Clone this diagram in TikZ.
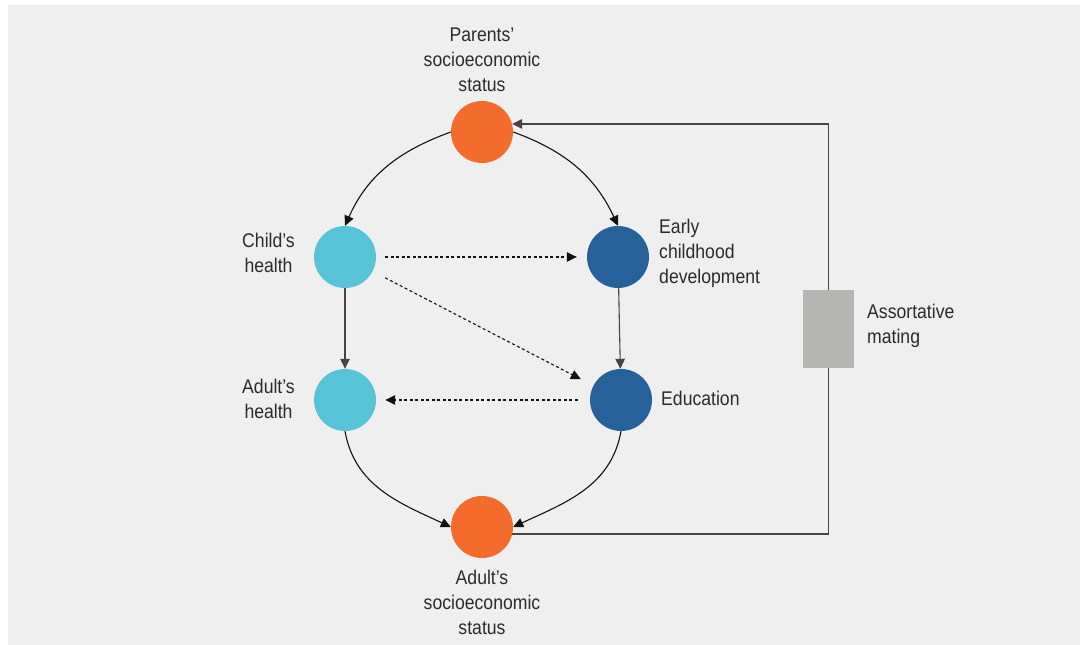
\documentclass[tikz,border=0pt]{standalone}
\usepackage{fontspec}
\setmainfont{Liberation Sans}[FakeStretch=0.89]
\usetikzlibrary{arrows.meta,calc}
\definecolor{bgc}{HTML}{EFEFEF}
\definecolor{sesc}{HTML}{F36C2C}
\definecolor{hc}{HTML}{57C3D6}
\definecolor{edc}{HTML}{266299}
\definecolor{boxc}{HTML}{B5B6B4}
\definecolor{txtc}{HTML}{2B2B2B}
\definecolor{linec}{HTML}{111111}
\definecolor{vlinec}{HTML}{444444}
\tikzset{
  dot/.style={circle, minimum size=62pt, inner sep=0pt, draw=none},
  sesnode/.style={dot, fill=sesc},
  hnode/.style={dot, fill=hc},
  enode/.style={dot, fill=edc},
  boxnode/.style={rectangle, fill=boxc, minimum width=51pt, minimum height=78pt, inner sep=0pt},
  lbl/.style={inner sep=0pt, text=txtc, font=\fontsize{19.8pt}{25pt}\selectfont},
  arr/.style={draw=linec, line width=1.1pt, -{Triangle[length=10pt,width=9.5pt]}},
  vline/.style={draw=vlinec},
  dotarr/.style={draw=linec, line width=1.1pt, dash pattern=on 3pt off 2.5pt, -{Triangle[length=10pt,width=9.5pt]}},
  loopline/.style={draw=vlinec, line width=1.2pt},
}
\begin{document}
\begin{tikzpicture}[x=1pt,y=1pt]
\useasboundingbox (0,0) rectangle (1084,645);
\fill[white] (0,0) rectangle (1084,645);
\fill[bgc] (8,0) rectangle (1080,640);

% circles
\node[sesnode] (ps) at (482,513) {};
\node[hnode] (ch) at (345,388) {};
\node[enode] (ec) at (618,388) {};
\node[enode] (ed) at (621,245) {};
\node[hnode] (ah) at (345,245) {};
\node[sesnode] (as) at (482,118) {};
\node[boxnode] (am) at (828.5,316) {};

% labels
\node[lbl, align=center] (psl) at (482,585) {Parents’\\socioeconomic\\status};
\node[lbl, align=center, anchor=east] (chl) at (295,392) {Child’s\\health};
\node[lbl, align=center, anchor=east] (ahl) at (295,246) {Adult’s\\health};
\node[lbl, align=left, anchor=west] (ecl) at (659,392) {Early\\childhood\\development};
\node[lbl, anchor=west] (edl) at (661,247) {Education};
\node[lbl, align=left, anchor=west] (aml) at (867,319) {Assortative\\mating};
\node[lbl, align=center] (asl) at (482,43) {Adult’s\\socioeconomic\\status};

% connectors
\draw[arr] (ps.west) to[out=200,in=66] (ch.north);
\draw[arr] (ps.east) to[out=-20,in=115] (ec.north);
\draw[arr,vline] (ch) -- (ah);
\draw[arr,vline] (ec) -- (ed);
\draw[arr] (ah.south) to[out=-80,in=155] (as.west);
\draw[arr] (ed.south) to[out=-100,in=25] (as.east);
\draw[dotarr, shorten <=9pt, shorten >=10pt] (ch) -- (ec);
\draw[dotarr, shorten <=14pt, shorten >=14pt] (ch) -- (ed);
\draw[dotarr, shorten <=12pt, shorten >=9pt] (ed) -- (ah);
\draw[loopline] (as.-13) -| (am.south);
\draw[loopline, -{Triangle[length=10pt,width=9.5pt]}] (am.north) |- (ps.15);
\end{tikzpicture}
\end{document}
